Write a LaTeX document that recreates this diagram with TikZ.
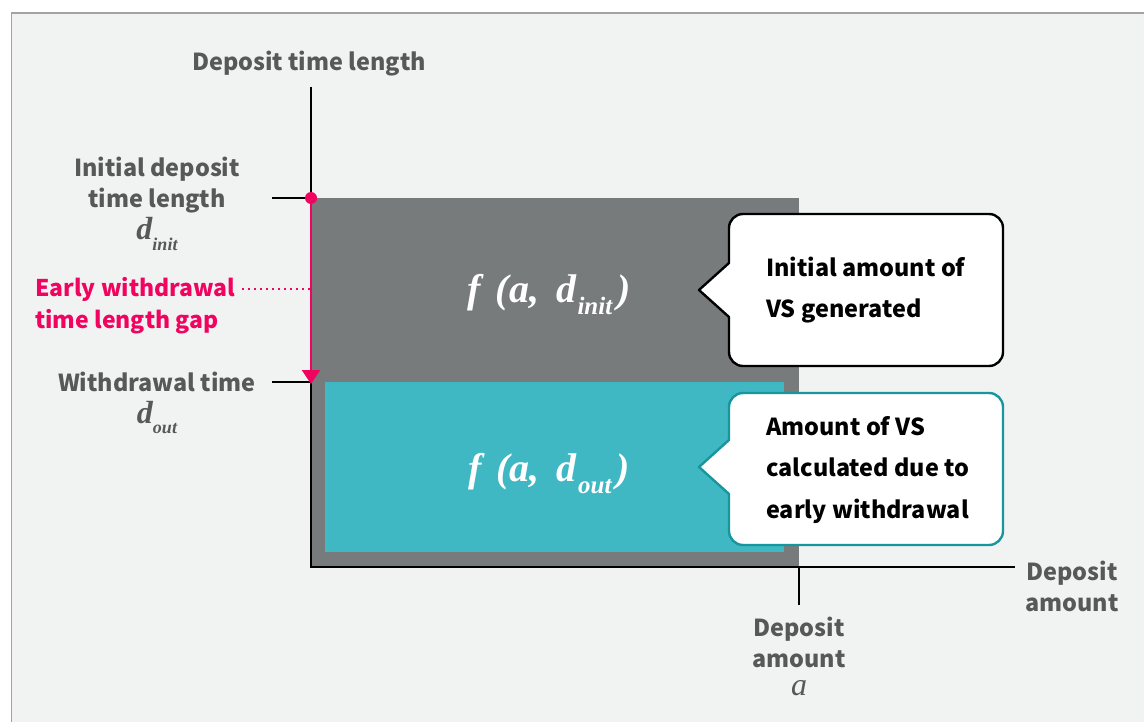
\documentclass[tikz,border=0pt]{standalone}
\usepackage{fontspec}
\usetikzlibrary{arrows.meta}
\newfontfamily\lab{Noto Sans CJK KR}
\newfontfamily\serf{Liberation Serif}
\definecolor{bgc}{HTML}{F1F2F2}
\definecolor{bordc}{HTML}{A3A3A3}
\definecolor{boxgray}{HTML}{777B7B}
\definecolor{tealfill}{HTML}{3FB8C3}
\definecolor{tealline}{HTML}{17969E}
\definecolor{pinkc}{HTML}{F0045F}
\definecolor{labgray}{HTML}{585858}
\newcommand\myformula[1]{{\serf\bfseries\itshape f\hspace{15pt}(a,\hspace{17pt}d\hspace{1.5pt}\raisebox{-0.3em}{\fontsize{25}{25}\selectfont #1}\hspace{5pt})}}
\newcommand\myvar[1]{{\serf\bfseries\itshape d\raisebox{-0.32em}{\fontsize{18}{18}\selectfont #1}}}
\begin{document}
\begin{tikzpicture}[x=1pt,y=-1pt,
  lbl/.style={font=\lab\bfseries\fontsize{23.4}{31}\selectfont, text=labgray, align=center, inner sep=0pt, anchor=base},
  plbl/.style={font=\lab\bfseries\fontsize{23}{32}\selectfont, text=pinkc, align=left, inner sep=0pt, anchor=base west},
  calltxt/.style={font=\lab\bfseries\fontsize{23.4}{41.5}\selectfont, text=black, align=left, inner sep=0pt, anchor=base west},
  formula/.style={font=\fontsize{40}{40}\selectfont, text=white, inner sep=0pt, anchor=base},
  varlbl/.style={font=\fontsize{32}{32}\selectfont, text=labgray, inner sep=0pt, anchor=base},
  axisline/.style={line width=2.4pt, black},
  calloutbox/.style={line width=2.4pt, fill=white, line join=round}
]
\useasboundingbox (0,0) rectangle (1144,722);
\fill[white] (0,0) rectangle (1144,722);
\fill[bgc] (12,13) rectangle (1144,722);
\draw[bordc, line width=1.6pt] (11.5,722) -- (11.5,13) -- (1144,13);

% areas
\fill[boxgray] (311,198) rectangle (799,567);
\fill[tealfill] (325,382) rectangle (784,552);

% coordinates
\coordinate (ytop) at (311,87);
\coordinate (O) at (311,567);
\coordinate (xend) at (1015,567);
\coordinate (tinit) at (272,198);
\coordinate (dinit) at (311,198);
\coordinate (tout) at (272,382);
\coordinate (dout) at (311,384);
\coordinate (douty) at (311,382);
\coordinate (ta) at (799,567);
\coordinate (tab) at (799,605);
\coordinate (gapstart) at (242,289);
\coordinate (gapend) at (311,289);

% axes and ticks
\draw[axisline] (ytop) -- (O) -- (xend);
\draw[axisline] (tinit) -- (dinit);
\draw[axisline] (tout) -- (douty);
\draw[axisline] (ta) -- (tab);

% pink gap
\draw[pinkc, line width=2.4pt, -{Triangle[width=18pt,length=14pt]}] (dinit) -- (dout);
\fill[pinkc] (dinit) circle (6);
\draw[pinkc, line width=1.6pt, dash pattern=on 2pt off 4pt] (gapstart) -- (gapend);

% formulas
\node[formula] (finit) at (549,303) {\myformula{init}};
\node[formula] (fout) at (549,481) {\myformula{out}};

% callouts
\draw[calloutbox, draw=black] (699,290) -- (729,263) [rounded corners=14pt] -- (729,214) -- (1003,214) -- (1003,366) -- (729,366) [sharp corners] -- (729,317) -- cycle;
\draw[calloutbox, draw=tealline] (699,467) -- (729,440) [rounded corners=14pt] -- (729,393) -- (1003,393) -- (1003,545) -- (729,545) [sharp corners] -- (729,494) -- cycle;
\node[calltxt] (c1) at (766,318) {Initial amount of\\VS generated};
\node[calltxt] (c2) at (766,518) {Amount of VS\\calculated due to\\early withdrawal};

% labels
\node[lbl] (ylab) at (309,71) {Deposit time length};
\node[lbl] (initlab) at (157,208) {Initial deposit\\time length};
\node[varlbl] (dinitlab) at (157,240) {\myvar{init}};
\node[lbl] (outlab) at (157,391) {Withdrawal time};
\node[varlbl] (doutlab) at (157,423) {\myvar{out}};
\node[plbl] (gaplab) at (35,328) {Early withdrawal\\time length gap};
\node[lbl] (xlab) at (1072,611) {Deposit\\amount};
\node[lbl] (alab) at (799,667) {Deposit\\amount};
\node[varlbl] (avar) at (799,695) {\serf\itshape a};
\end{tikzpicture}
\end{document}
